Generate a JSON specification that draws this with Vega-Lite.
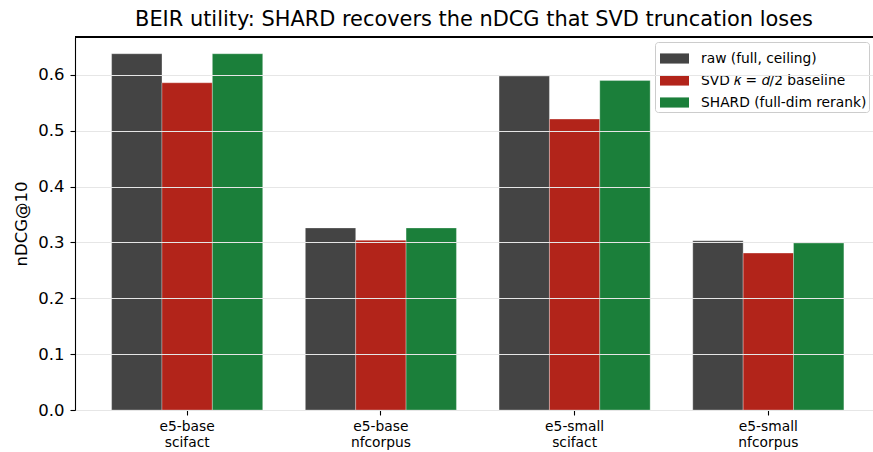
{
  "$schema": "https://vega.github.io/schema/vega-lite/v6.json",
  "width": 798,
  "height": 373,
  "autosize": {"type": "none"},
  "padding": {"left": 75, "top": 37, "right": 0, "bottom": 42},
  "title": {"text": "BEIR utility: SHARD recovers the nDCG that SVD truncation loses", "fontSize": 20.9, "font": "DejaVu Sans", "fontWeight": "normal", "color": "black", "offset": 7, "anchor": "middle"},
  "config": {
    "font": "DejaVu Sans",
    "view": {"stroke": null},
    "axis": {"domainColor": "black", "tickColor": "black", "labelColor": "black", "titleColor": "black", "labelFont": "DejaVu Sans", "titleFont": "DejaVu Sans", "titleFontWeight": "normal", "tickSize": 5, "tickWidth": 1.1, "domainWidth": 1.1}
  },
  "data": {"values": [
    {"group": "e5-base|scifact", "method": "raw (full, ceiling)", "v": 0.638},
    {"group": "e5-base|scifact", "method": "SVD 𝑘 = 𝑑/2 baseline", "v": 0.586},
    {"group": "e5-base|scifact", "method": "SHARD (full-dim rerank)", "v": 0.638},
    {"group": "e5-base|nfcorpus", "method": "raw (full, ceiling)", "v": 0.326},
    {"group": "e5-base|nfcorpus", "method": "SVD 𝑘 = 𝑑/2 baseline", "v": 0.304},
    {"group": "e5-base|nfcorpus", "method": "SHARD (full-dim rerank)", "v": 0.326},
    {"group": "e5-small|scifact", "method": "raw (full, ceiling)", "v": 0.598},
    {"group": "e5-small|scifact", "method": "SVD 𝑘 = 𝑑/2 baseline", "v": 0.521},
    {"group": "e5-small|scifact", "method": "SHARD (full-dim rerank)", "v": 0.590},
    {"group": "e5-small|nfcorpus", "method": "raw (full, ceiling)", "v": 0.303},
    {"group": "e5-small|nfcorpus", "method": "SVD 𝑘 = 𝑑/2 baseline", "v": 0.281},
    {"group": "e5-small|nfcorpus", "method": "SHARD (full-dim rerank)", "v": 0.299}
  ]},
  "layer": [
    {
      "mark": {"type": "bar", "stroke": "white", "strokeWidth": 0.6, "strokeOpacity": 0.5},
      "encoding": {
        "x": {"field": "group", "type": "nominal", "sort": null,
          "scale": {"range": [0, 805.5], "paddingInner": 0.22, "paddingOuter": 0.189},
          "axis": {"title": null, "labelAngle": 0, "labelFontSize": 13.8, "labelPadding": 4, "labelLineHeight": 16, "labelExpr": "split(datum.label, '|')", "grid": false}},
        "xOffset": {"field": "method", "type": "nominal", "sort": null, "scale": {"paddingInner": 0, "paddingOuter": 0}},
        "y": {"field": "v", "type": "quantitative",
          "scale": {"domain": [0, 0.668], "nice": false, "zero": true},
          "axis": {"title": "nDCG@10", "titleFontSize": 16.5, "titlePadding": 8, "labelFontSize": 16.5, "labelPadding": 6, "values": [0, 0.1, 0.2, 0.3, 0.4, 0.5, 0.6], "format": ".1f", "grid": true, "gridColor": "#e6e6e6", "gridWidth": 1, "zindex": 1}},
        "color": {"field": "method", "type": "nominal", "sort": null,
          "scale": {"domain": ["raw (full, ceiling)", "SVD 𝑘 = 𝑑/2 baseline", "SHARD (full-dim rerank)"], "range": ["#444444", "#b2241a", "#1b7f3a"]},
          "legend": {"title": null, "orient": "none", "legendX": 580, "legendY": 5, "labelFontSize": 13.8, "labelLimit": 400, "labelColor": "black", "symbolType": "M-1,-0.35H1V0.35H-1Z", "symbolSize": 841, "symbolStrokeWidth": 0, "symbolOffset": 3, "rowPadding": 0, "labelOffset": 12, "padding": 2, "fillColor": "rgba(255,255,255,0.85)", "strokeColor": "#cccccc", "cornerRadius": 3, "symbolOpacity": 1}}
      }
    },
    {
      "mark": {"type": "rule", "color": "black", "strokeWidth": 1.1},
      "encoding": {"y": {"datum": 0.668}}
    }
  ]
}
